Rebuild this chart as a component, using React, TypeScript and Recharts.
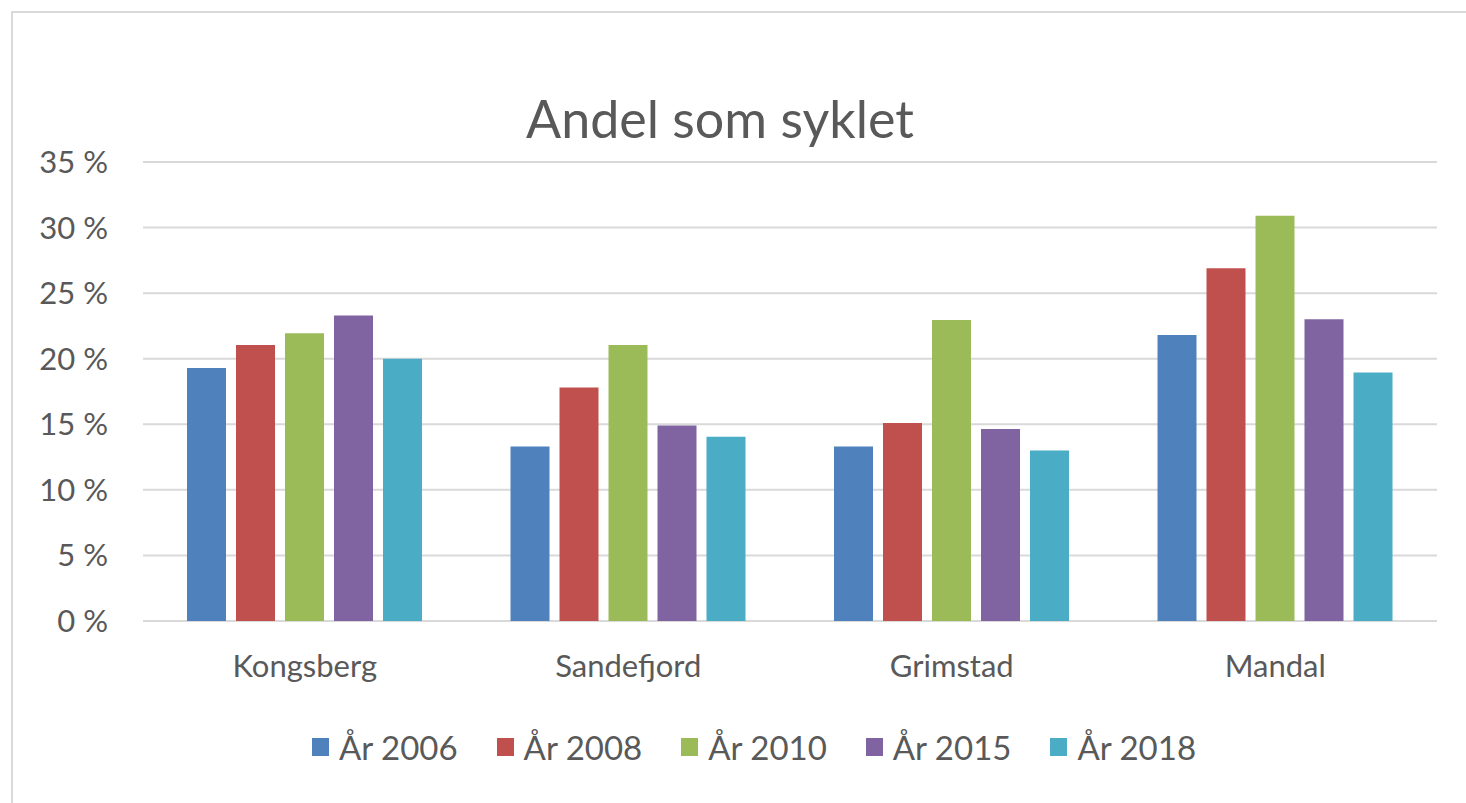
import { BarChart, Bar, XAxis, YAxis, CartesianGrid, Legend } from 'recharts';

const cities = ['Kongsberg', 'Sandefjord', 'Grimstad', 'Mandal'];
const years = ['År 2006', 'År 2008', 'År 2010', 'År 2015', 'År 2018'];
const y2006 = [19.3, 13.3, 13.3, 21.8];
const y2008 = [21.05, 17.8, 15.1, 26.9];
const y2010 = [21.95, 21.05, 22.95, 30.9];
const y2015 = [23.3, 14.9, 14.65, 23.0];
const y2018 = [20.0, 14.05, 13.0, 18.95];
const yTicks = [0, 5, 10, 15, 20, 25, 30, 35];

const colors = ['#4F81BD', '#C0504D', '#9BBB59', '#8064A2', '#4BACC6'];
const textColor = '#595959';
const font = 'Lato, "Open Sans", sans-serif';

const series = [y2006, y2008, y2010, y2015, y2018];
const data = cities.map((name, i) => {
  const row: Record<string, string | number> = { name };
  years.forEach((yr, j) => {
    row[yr] = series[j][i];
  });
  return row;
});

function LegendContent({ payload }: any) {
  return (
    <div style={{ display: 'flex', alignItems: 'center', fontFamily: font }}>
      {(payload || []).map((p: any) => (
        <div key={p.value} style={{ display: 'flex', alignItems: 'center', marginRight: 39 }}>
          <span style={{ width: 17, height: 18, background: p.color, display: 'inline-block', marginRight: 10 }} />
          <span style={{ fontSize: 33, color: textColor }}>{p.value}</span>
        </div>
      ))}
    </div>
  );
}

export default function App() {
  return (
    <div style={{ position: 'absolute', left: 0, top: 0, width: 1466, height: 803, background: '#fff', fontFamily: font }}>
      <div
        style={{
          position: 'absolute',
          left: 11,
          top: 11,
          width: 1466,
          height: 803,
          borderLeft: '2px solid #d9d9d9',
          borderTop: '2px solid #d9d9d9',
        }}
      />
      <div
        style={{
          position: 'absolute',
          left: 0,
          width: 1440,
          top: 88,
          textAlign: 'center',
          fontSize: 52,
          color: textColor,
          lineHeight: '60px',
        }}
      >
        Andel som syklet
      </div>
      <BarChart
        width={1466}
        height={803}
        data={data}
        margin={{ top: 162, right: 29, bottom: 152, left: 0 }}
        barCategoryGap={44}
        barGap={10}
        style={{ position: 'absolute', left: 0, top: 0 }}
      >
        <CartesianGrid horizontal vertical={false} stroke="#d9d9d9" strokeWidth={2} />
        <XAxis
          dataKey="name"
          height={30}
          axisLine={false}
          tickLine={false}
          tickSize={0}
          tickMargin={34}
          tick={{ fill: textColor, fontSize: 31, fontFamily: font }}
        />
        <YAxis
          width={143}
          domain={[0, 35]}
          ticks={yTicks}
          interval={0}
          axisLine={false}
          tickLine={false}
          tickSize={0}
          tickMargin={35}
          tickFormatter={(v: number) => `${v} %`}
          tick={{ fill: textColor, fontSize: 31, fontFamily: font }}
        />
        <Legend
          layout="horizontal"
          verticalAlign="middle"
          align="center"
          content={<LegendContent />}
          wrapperStyle={{ position: 'absolute', left: 312, top: 727, width: 1000, height: 40 }}
        />
        {years.map((yr, j) => (
          <Bar key={yr} dataKey={yr} fill={colors[j]} isAnimationActive={false} />
        ))}
      </BarChart>
    </div>
  );
}
